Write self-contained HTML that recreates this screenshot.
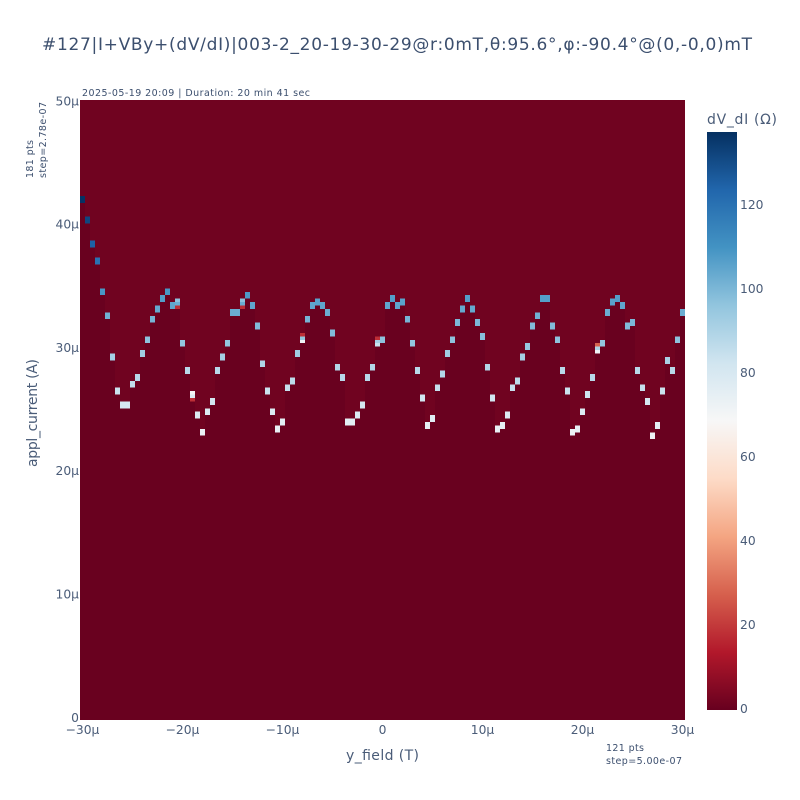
<!DOCTYPE html>
<html lang="en">
<head>
<meta charset="utf-8">
<title>Heatmap dV/dI</title>
<style>
html,body{margin:0;padding:0;background:#fff;width:800px;height:800px;overflow:hidden}
svg{display:block}
text{fill:#3c4f6e;font-family:"DejaVu Sans","Liberation Sans",sans-serif}
.tick{font-family:"DejaVu Sans","Liberation Sans",sans-serif;font-size:12.3px;fill:#4a5c78}
</style>
</head>
<body>
<svg id="chart" width="800" height="800" viewBox="0 0 800 800" xmlns="http://www.w3.org/2000/svg">
  <defs>
    <linearGradient id="cbGrad" x1="0" y1="1" x2="0" y2="0"></linearGradient>
  </defs>
  <text x="42" y="50" font-size="17" textLength="710" lengthAdjust="spacing">#127|I+VBy+(dV/dI)|003-2_20-19-30-29@r:0mT,θ:95.6°,φ:-90.4°@(0,-0,0)mT</text>
  <text x="82" y="96" font-size="9.5" textLength="228" lengthAdjust="spacing">2025-05-19 20:09 | Duration: 20 min 41 sec</text>
  <text transform="translate(33,178) rotate(-90)" font-size="9.5" textLength="38" lengthAdjust="spacing">181 pts</text>
  <text transform="translate(46,178) rotate(-90)" font-size="9.5" textLength="76" lengthAdjust="spacing">step=2.78e-07</text>
  <text x="606" y="751" font-size="9.5" textLength="38" lengthAdjust="spacing">121 pts</text>
  <text x="606" y="764" font-size="9.5" textLength="76" lengthAdjust="spacing">step=5.00e-07</text>
  <g id="cells" shape-rendering="crispEdges"></g>
  <g id="xticks"></g>
  <g id="yticks"></g>
  <text x="382.5" y="760" font-size="14" text-anchor="middle" textLength="73" lengthAdjust="spacing" style="fill:#4a5c78">y_field (T)</text>
  <text transform="translate(37,467) rotate(-90)" font-size="14" textLength="108" lengthAdjust="spacing" style="fill:#4a5c78">appl_current (A)</text>
  <text x="707" y="124" font-size="14" textLength="70" lengthAdjust="spacing" style="fill:#4a5c78">dV_dI (Ω)</text>
  <rect x="707" y="132" width="30" height="578" fill="url(#cbGrad)"></rect>
  <g id="cbticks"></g>
</svg>
<script>
// Data
const xTickValues = [-30, -20, -10, 0, 10, 20, 30];
const xTickLabels = ['−30µ', '−20µ', '−10µ', '0', '10µ', '20µ', '30µ'];
const yTickValues = [0, 10, 20, 30, 40, 50];
const yTickLabels = ['0', '10µ', '20µ', '30µ', '40µ', '50µ'];
const colorTickValues = [0, 20, 40, 60, 80, 100, 120];
const colorStops = ['#67001f', '#b2182b', '#d6604d', '#f4a582', '#fddbc7', '#f7f7f7', '#d1e5f0', '#92c5de', '#4393c3', '#2166ac', '#053061'];
const fieldStart = -30;     // µT
const fieldStep = 0.5;      // µT
const currentStep = 0.2778; // µA
const rowCount = 181;
const zMax = 137.5;
const belowValue = 0.3;
const aboveValue = 1.6;
// lowest row index of the switching peak per field column
const peakRows = [
  151,145,138,133,124,117,105,95,91,91,
  97,99,106,110,116,119,122,124,120,120,
  109,101,93,88,83,89,92,101,105,109,
  118,118,120,123,120,114,103,95,89,84,
  86,96,98,106,110,116,120,121,120,118,
  112,102,99,86,86,88,91,99,102,109,
  110,120,122,120,121,116,109,101,93,85,
  87,96,100,106,110,115,119,122,119,115,
  111,102,93,84,85,88,96,98,105,108,
  114,117,122,122,114,110,101,95,83,84,
  89,94,99,107,109,118,121,122,120,114,
  115,101,96,92,82,85,95,104,101,110,118
];
// dV/dI value of each peak (spans two rows)
const peakValues = [
  137,132,125,120,109,102,92,84,81,81,
  86,88,93,97,101,104,107,109,105,103,
  96,88,78,78,73,79,82,88,92,96,
  103,103,103,108,105,99,90,84,79,74,
  76,85,87,93,96,101,105,106,105,103,
  99,89,88,76,76,78,81,88,89,92,
  97,105,107,105,106,101,96,88,82,75,
  77,85,89,93,97,100,104,107,104,100,
  98,89,82,74,75,78,85,87,92,95,
  99,102,107,107,99,97,88,84,73,74,
  79,83,88,90,96,103,106,107,105,99,
  100,88,85,81,72,75,84,91,88,97,103
];
// columns whose peak spans three rows, values listed from low row to high row
const transitionColumns = [19, 22, 32, 44, 59, 103];
const transitionValues = [
  [18, 103, 97],
  [18, 78, 70],
  [18, 103, 97],
  [72, 96, 18],
  [84, 92, 18],
  [72, 90, 28]
];

const svgNS = 'http://www.w3.org/2000/svg';
const plotLeft = 80, plotRight = 685, plotTop = 100, plotBottom = 720;
const barBottomTick = 708.5, barPxPerUnit = 4.2;

function xAxis(f) {
  const pad = fieldStep / 2;
  const lo = fieldStart - pad;
  const hi = fieldStart + fieldStep * (peakRows.length - 1) + pad;
  return plotLeft + (f - lo) / (hi - lo) * (plotRight - plotLeft);
}
function yAxis(i) {
  const pad = currentStep / 2;
  const lo = -pad;
  const hi = currentStep * (rowCount - 1) + pad;
  return plotBottom - (i - lo) / (hi - lo) * (plotBottom - plotTop);
}
function colorAxis(v) {
  return barBottomTick - v * barPxPerUnit;
}
function hexToRgb(h) {
  return [parseInt(h.slice(1, 3), 16), parseInt(h.slice(3, 5), 16), parseInt(h.slice(5, 7), 16)];
}
function colorOf(v) {
  const t = Math.max(0, Math.min(1, v / zMax)) * (colorStops.length - 1);
  const k = Math.min(colorStops.length - 2, Math.floor(t));
  const a = hexToRgb(colorStops[k]), b = hexToRgb(colorStops[k + 1]);
  const f = t - k;
  return 'rgb(' + a.map((c, n) => Math.round(c + (b[n] - c) * f)).join(',') + ')';
}
function rowEdge(r) {
  return yAxis((r - 0.5) * currentStep);
}
function addCell(col, rowLow, rowHigh, value, name) {
  const f = fieldStart + col * fieldStep;
  const x0 = xAxis(f - fieldStep / 2), x1 = xAxis(f + fieldStep / 2);
  const y0 = rowEdge(rowHigh), y1 = rowEdge(rowLow);
  const el = document.createElementNS(svgNS, 'rect');
  el.setAttribute('x', x0);
  el.setAttribute('y', y0);
  el.setAttribute('width', x1 - x0);
  el.setAttribute('height', y1 - y0);
  el.setAttribute('fill', colorOf(value));
  
  
  document.getElementById('cells').appendChild(el);
}
peakRows.forEach((row, col) => {
  const tIndex = transitionColumns.indexOf(col);
  const values = tIndex >= 0 ? transitionValues[tIndex] : [peakValues[col], peakValues[col]];
  addCell(col, 0, row, belowValue, 'below-peak-cells');
  addCell(col, row + values.length, rowCount, aboveValue, 'above-peak-cells');
  values.forEach((v, n) => addCell(col, row + n, row + n + 1, v, 'peak-cell'));
});

function addTick(parentId, x, y, anchor, label, name) {
  const el = document.createElementNS(svgNS, 'text');
  el.setAttribute('x', x);
  el.setAttribute('y', y);
  el.setAttribute('text-anchor', anchor);
  el.setAttribute('class', 'tick');
  
  
  el.textContent = label;
  document.getElementById(parentId).appendChild(el);
}
xTickValues.forEach((v, n) => addTick('xticks', xAxis(v), 734, 'middle', xTickLabels[n], 'x-tick-label'));
yTickValues.forEach((v, n) => addTick('yticks', 79, yAxis(v) + 3.5, 'end', yTickLabels[n], 'y-tick-label'));
colorTickValues.forEach(v => addTick('cbticks', 740, colorAxis(v) + 4.5, 'start', String(v), 'colorbar-tick-label'));

const grad = document.getElementById('cbGrad');
colorStops.forEach((c, n) => {
  const s = document.createElementNS(svgNS, 'stop');
  s.setAttribute('offset', n / (colorStops.length - 1));
  s.setAttribute('stop-color', c);
  grad.appendChild(s);
});
</script>
</body>
</html>
